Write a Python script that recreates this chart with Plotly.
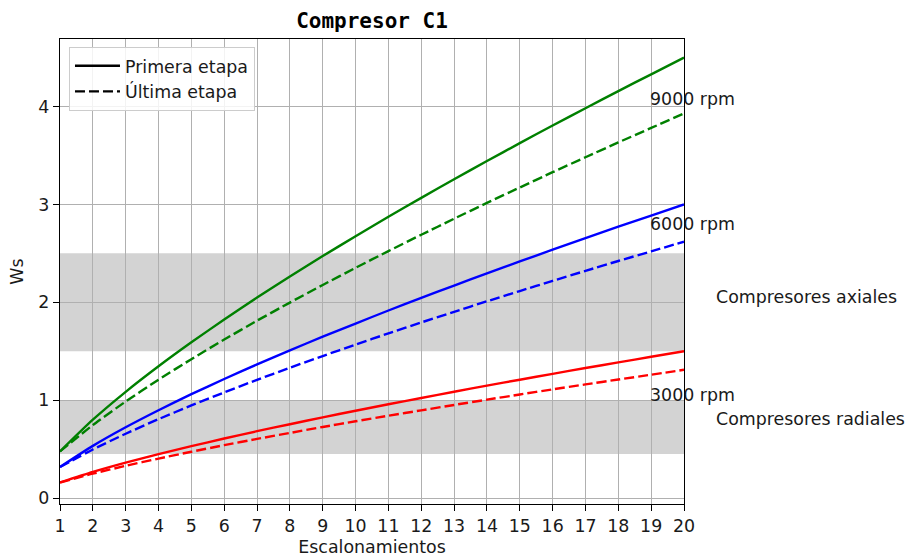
import plotly.graph_objects as go

# ---- data ----
escalonamientos = list(range(1, 21))

ws_3000_primera = [0.159, 0.267, 0.362, 0.449, 0.530, 0.608, 0.683, 0.754, 0.824, 0.892,
                   0.958, 1.022, 1.086, 1.148, 1.209, 1.269, 1.328, 1.386, 1.443, 1.500]
ws_3000_ultima = [0.159, 0.249, 0.329, 0.403, 0.473, 0.540, 0.604, 0.665, 0.726, 0.784,
                  0.841, 0.896, 0.951, 1.005, 1.058, 1.110, 1.161, 1.211, 1.260, 1.310]

ws_6000_primera = [0.317, 0.533, 0.723, 0.897, 1.061, 1.216, 1.365, 1.509, 1.648, 1.783,
                   1.916, 2.045, 2.171, 2.295, 2.417, 2.537, 2.655, 2.772, 2.886, 3.000]
ws_6000_ultima = [0.317, 0.496, 0.657, 0.806, 0.946, 1.079, 1.208, 1.331, 1.451, 1.568,
                  1.682, 1.794, 1.903, 2.010, 2.115, 2.219, 2.321, 2.422, 2.520, 2.619]

ws_9000_primera = [0.476, 0.800, 1.085, 1.346, 1.591, 1.824, 2.048, 2.263, 2.472, 2.675,
                   2.873, 3.067, 3.257, 3.443, 3.626, 3.806, 3.983, 4.158, 4.329, 4.500]
ws_9000_ultima = [0.476, 0.745, 0.986, 1.209, 1.419, 1.619, 1.812, 1.997, 2.177, 2.352,
                  2.523, 2.690, 2.854, 3.015, 3.173, 3.329, 3.482, 3.633, 3.781, 3.929]

series = [
    ("3000 rpm", "red", ws_3000_primera, ws_3000_ultima),
    ("6000 rpm", "blue", ws_6000_primera, ws_6000_ultima),
    ("9000 rpm", "green", ws_9000_primera, ws_9000_ultima),
]

rpm_labels = ["9000 rpm", "6000 rpm", "3000 rpm"]
rpm_label_x = [19, 19, 19]
rpm_label_y = [4.0, 2.72, 0.97]

zonas = ["Compresores axiales", "Compresores radiales"]
zonas_rango = [(1.5, 2.5), (0.45, 1.0)]
zonas_label_x = 21
zonas_label_y = [2.05, 0.81]

X_MIN, X_MAX = 1, 20
FONT = "DejaVu Sans"
FS = 17.4
TXT = "#1a1a1a"
DASH = "10px,4px"

fig = go.Figure()

for name, color, prim, ult in series:
    fig.add_trace(go.Scatter(x=escalonamientos, y=prim, mode="lines",
                             line=dict(color=color, width=2.4, shape="spline", smoothing=0.6),
                             showlegend=False, hoverinfo="skip"))
    fig.add_trace(go.Scatter(x=escalonamientos, y=ult, mode="lines",
                             line=dict(color=color, width=2.4, dash=DASH, shape="spline", smoothing=0.6),
                             showlegend=False, hoverinfo="skip"))

# legend proxies
fig.add_trace(go.Scatter(x=[None], y=[None], mode="lines", name="Primera etapa",
                         line=dict(color="black", width=2.4)))
fig.add_trace(go.Scatter(x=[None], y=[None], mode="lines", name="Última etapa",
                         line=dict(color="black", width=2.4, dash=DASH)))

for (y0, y1) in zonas_rango:
    fig.add_shape(type="rect", xref="x", yref="y", x0=X_MIN, x1=X_MAX, y0=y0, y1=y1,
                  fillcolor="#d3d3d3", line=dict(width=0), layer="below")

for t, xx, yy in zip(rpm_labels, rpm_label_x, rpm_label_y):
    fig.add_annotation(x=xx, y=yy, text=t, showarrow=False, xanchor="left", yanchor="bottom",
                       yshift=-4, xshift=-3, font=dict(family=FONT, size=FS, color=TXT))

zx_paper = (zonas_label_x - X_MIN) / (X_MAX - X_MIN)
for t, yy in zip(zonas, zonas_label_y):
    fig.add_annotation(x=zx_paper, xref="paper", y=yy, yref="y", text=t, showarrow=False,
                       xanchor="left", yanchor="middle", xshift=-3,
                       font=dict(family=FONT, size=FS, color=TXT))

axis_common = dict(showgrid=True, gridcolor="#b0b0b0", gridwidth=1.4,
                   showline=True, linecolor="black", linewidth=1.4, mirror=True,
                   ticks="outside", ticklen=6, tickwidth=1.4, tickcolor="black",
                   zeroline=False, automargin=False,
                   tickfont=dict(family=FONT, size=FS, color=TXT))

fig.update_xaxes(range=[X_MIN, X_MAX], tickmode="linear", tick0=1, dtick=1,
                 title=dict(text="Escalonamientos", font=dict(family=FONT, size=FS, color=TXT),
                            standoff=5),
                 **axis_common)
fig.update_yaxes(range=[-0.061, 4.69], tickmode="linear", tick0=0, dtick=1,
                 title=dict(text="Ws", font=dict(family=FONT, size=FS, color=TXT),
                            standoff=10),
                 **axis_common)

fig.update_layout(
    width=909, height=558, autosize=False,
    margin=dict(l=60, r=225, t=39, b=54),
    plot_bgcolor="white", paper_bgcolor="white",
    title=dict(text="<b>Compresor C1</b>", x=0.5, xref="paper", xanchor="center",
               y=1 - 21 / 558, yref="container", yanchor="middle",
               font=dict(family="DejaVu Sans Mono", size=21, color="black")),
    legend=dict(x=0.0144, y=0.983, xanchor="left", yanchor="top",
                bgcolor="rgba(255,255,255,0.85)", bordercolor="#cccccc", borderwidth=1,
                font=dict(family=FONT, size=FS, color=TXT),
                tracegroupgap=0, itemwidth=45),
    showlegend=True,
)

fig.write_html("out.html")
